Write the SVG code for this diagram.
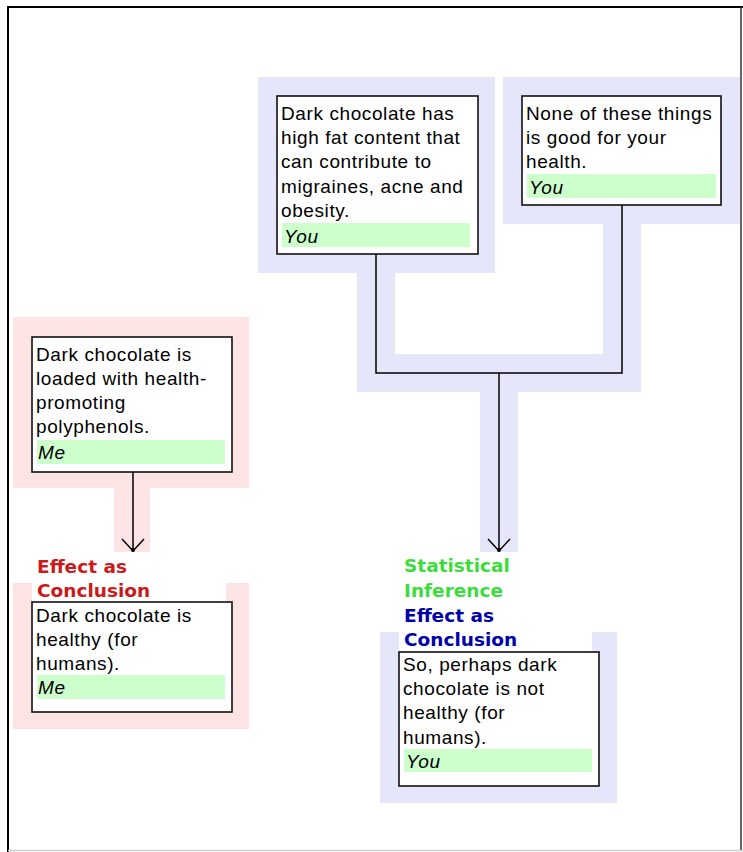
<svg xmlns="http://www.w3.org/2000/svg" width="743" height="852" viewBox="0 0 743 852">
  <style>
    .body { font-family: "Liberation Sans", Arial, sans-serif; font-size: 19px; letter-spacing: 0.6px; fill: #000; }
    .who { font-family: "Liberation Sans", Arial, sans-serif; font-size: 19px; font-style: italic; letter-spacing: 0.6px; fill: #000; }
    .lbl { font-family: "DejaVu Sans", Verdana, sans-serif; font-size: 18.5px; font-weight: bold; }
    .box { fill: #fff; stroke: #111; stroke-width: 1.6; }
    .tag { fill: #ccffcc; }
    .blue { fill: #e6e6fa; }
    .pink { fill: #fce4e4; }
    .wire { fill: none; stroke: #000; stroke-width: 1.5; }
  </style>
  <defs>
    <marker id="vee" markerUnits="userSpaceOnUse" markerWidth="30" markerHeight="30" viewBox="-15 -15 30 30" refX="0" refY="0" orient="auto">
      <path d="M-12,-11 L0,0 L-12,11" fill="none" stroke="#000" stroke-width="1.5"/>
      <circle cx="-1" cy="0" r="2" fill="#000"/>
    </marker>
  </defs>

  <!-- frame -->
  <rect x="0" y="0" width="743" height="852" fill="#fff"/>
  <line x1="8" y1="6" x2="8" y2="852" stroke="#000" stroke-width="2"/>
  <line x1="7" y1="7" x2="743" y2="7" stroke="#000" stroke-width="2"/>
  <line x1="741" y1="7" x2="741" y2="850" stroke="#333" stroke-width="1.5"/>
  <line x1="8" y1="850.5" x2="743" y2="850.5" stroke="#cfcfcf" stroke-width="1.5"/>

  <!-- argument highlight areas -->
  <g id="halo-you">
    <rect class="blue" x="258" y="77" width="237" height="196"/>
    <rect class="blue" x="503" y="77" width="237" height="147"/>
    <rect class="blue" x="357" y="254" width="38" height="138"/>
    <rect class="blue" x="357" y="354" width="284" height="38"/>
    <rect class="blue" x="603" y="205" width="38" height="187"/>
    <rect class="blue" x="480" y="373" width="38" height="179"/>
    <rect class="blue" x="380" y="632" width="237" height="171"/>
    <rect fill="#fff" x="399" y="632" width="193" height="20"/>
  </g>
  <g id="halo-me">
    <rect class="pink" x="13" y="317" width="236" height="171"/>
    <rect class="pink" x="114" y="472" width="36" height="80"/>
    <rect class="pink" x="13" y="583" width="236" height="146"/>
    <rect fill="#fff" x="32" y="583" width="194" height="19"/>
  </g>

  <!-- connectors -->
  <g id="connectors">
    <path class="wire" d="M376,254 V373 H622 V205"/>
    <path class="wire" d="M499,373 V551" marker-end="url(#vee)"/>
    <path class="wire" d="M133,472 V551" marker-end="url(#vee)"/>
  </g>

  <g id="node-fat">
    <rect class="box" x="277" y="96" width="201" height="158"/>
    <text class="body" x="281" y="120">Dark chocolate has</text>
    <text class="body" x="281" y="144">high fat content that</text>
    <text class="body" x="281" y="168">can contribute to</text>
    <text class="body" x="281" y="193">migraines, acne and</text>
    <text class="body" x="281" y="217">obesity.</text>
    <rect class="tag" x="282" y="223" width="188" height="24"/>
    <text class="who" x="284" y="243">You</text>
  </g>

  <g id="node-notgood">
    <rect class="box" x="522" y="96" width="199" height="109"/>
    <text class="body" x="526" y="120">None of these things</text>
    <text class="body" x="526" y="144">is good for your</text>
    <text class="body" x="526" y="168">health.</text>
    <rect class="tag" x="527" y="174" width="189" height="24"/>
    <text class="who" x="529" y="194">You</text>
  </g>

  <g id="node-polyphenols">
    <rect class="box" x="32" y="337" width="200" height="135"/>
    <text class="body" x="36" y="361">Dark chocolate is</text>
    <text class="body" x="36" y="385">loaded with health-</text>
    <text class="body" x="36" y="409">promoting</text>
    <text class="body" x="36" y="433">polyphenols.</text>
    <rect class="tag" x="37" y="440" width="188" height="24"/>
    <text class="who" x="38" y="459">Me</text>
  </g>

  <g id="node-healthy">
    <text class="lbl" x="37" y="573" fill="#cc1a1a">Effect as</text>
    <text class="lbl" x="37" y="597" fill="#cc1a1a">Conclusion</text>
    <rect class="box" x="32" y="602" width="200" height="110"/>
    <text class="body" x="36" y="622">Dark chocolate is</text>
    <text class="body" x="36" y="646">healthy (for</text>
    <text class="body" x="36" y="670">humans).</text>
    <rect class="tag" x="37" y="675" width="188" height="24"/>
    <text class="who" x="38" y="694">Me</text>
  </g>

  <g id="node-nothealthy">
    <text class="lbl" x="404" y="572" fill="#3ddc3d">Statistical</text>
    <text class="lbl" x="404" y="597" fill="#3ddc3d">Inference</text>
    <text class="lbl" x="404" y="622" fill="#0000aa">Effect as</text>
    <text class="lbl" x="404" y="646" fill="#0000aa">Conclusion</text>
    <rect class="box" x="399" y="652" width="200" height="134"/>
    <text class="body" x="403" y="671">So, perhaps dark</text>
    <text class="body" x="403" y="695">chocolate is not</text>
    <text class="body" x="403" y="719">healthy (for</text>
    <text class="body" x="403" y="744">humans).</text>
    <rect class="tag" x="404" y="749" width="188" height="23"/>
    <text class="who" x="406" y="768">You</text>
  </g>
</svg>
